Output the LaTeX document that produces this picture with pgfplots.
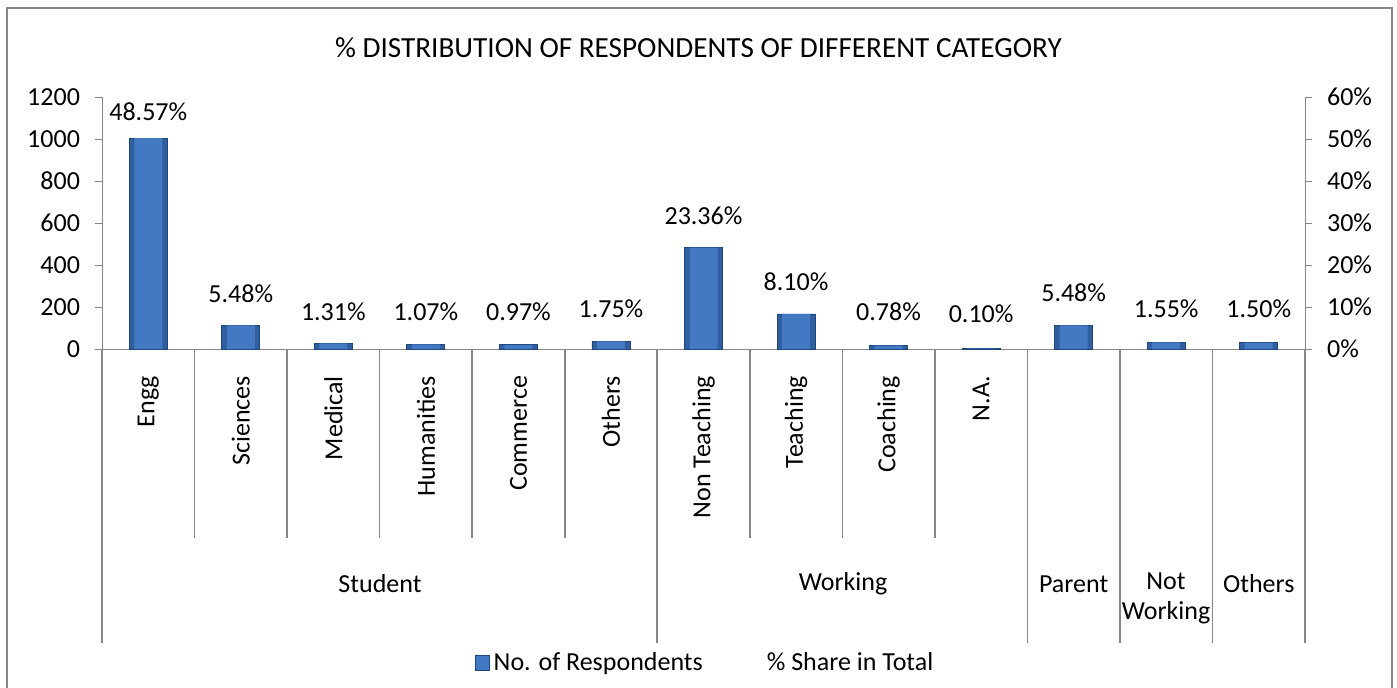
\documentclass[border=0pt]{standalone}
\usepackage{pgfplots}
\pgfplotsset{compat=1.18}
\usepackage{pgfplotstable}
\usepackage{fontspec}
\setmainfont{Carlito}
\definecolor{axgray}{HTML}{868686}
\definecolor{barD}{HTML}{2F5F9E}
\definecolor{barM}{HTML}{4279C2}
\definecolor{barEdge}{HTML}{1F467A}
\pgfplotsset{/pgf/number format/assume math mode=true, /pgf/number format/1000 sep={}}
\newcommand{\fs}{\fontsize{13}{15}\selectfont}

% x: category index, count: No. of Respondents, pct: % share, ly: label height (left-axis units)
\pgfplotstableread{
x count pct ly
0 1004 48.57 1129
1 113 5.48 262
2 27 1.31 176
3 22 1.07 176
4 20 0.97 176
5 36 1.75 190
6 483 23.36 633
7 167 8.10 319
8 16 0.78 176
9 2 0.10 167
10 113 5.48 267
11 32 1.55 190
12 31 1.50 190
}\data

\begin{document}
\begin{tikzpicture}
\useasboundingbox (-51pt,-169pt) rectangle (647.5pt,174.5pt);
\draw[axgray, line width=1pt] (-47.5pt,170.5pt) rectangle (645pt,-200pt);
\begin{axis}[
  at={(0,0)}, anchor=south west,
  scale only axis, width=601.5pt, height=126pt,
  xmin=-0.5, xmax=12.5, ymin=0, ymax=1200,
  ytick={0,200,...,1200},
  axis y line*=left, axis x line*=bottom,
  axis line style={axgray, -}, 
  tick style={axgray},
  tick align=outside, major tick length=3.5pt,
  ytick style={axgray},
  xtick={0,...,12},
  xticklabels={Engg,Sciences,Medical,Humanities,Commerce,Others,Non Teaching,Teaching,Coaching,N.A.,,,},
  x tick style={draw=none},
  xticklabel style={rotate=90, anchor=east, font=\fs, xshift=-6.5pt},
  yticklabel style={font=\fs, xshift=-4pt},
  clip=false,
  legend style={at={(0.502,-1.246)}, anchor=center, draw=none, legend columns=2, font=\fs,
    /tikz/every even column/.append style={column sep=28pt}},
]
\addplot[ybar, bar width=19pt, draw=barEdge, fill=barD,
  legend image code/.code={\draw[fill=barM, draw=barEdge] (0pt,-3.6pt) rectangle (7.2pt,3.6pt);}]
  table[x=x, y=count]{\data};
\addlegendentry{No. of Respondents}
\addlegendimage{empty legend}
\addlegendentry{\% Share in Total}
\addplot[ybar, bar width=14pt, draw=none, fill=barM, forget plot]
  table[x=x, y=count]{\data};
\addplot[draw=none, forget plot, mark=none,
  nodes near coords={\pgfmathprintnumber[fixed,fixed zerofill,precision=2]{\pgfplotspointmeta}\%},
  point meta=explicit,
  every node near coord/.append style={anchor=center, font=\fs, text=black}]
  table[x=x, y=ly, meta=pct]{\data};
\end{axis}
\begin{axis}[
  at={(0,0)}, anchor=south west,
  scale only axis, width=601.5pt, height=126pt,
  xmin=-0.5, xmax=12.5, ymin=0, ymax=60,
  ytick={0,10,...,60},
  axis y line*=right, axis x line=none,
  axis line style={axgray, -},
  tick align=outside, major tick length=3.5pt,
  ytick style={axgray},
  yticklabel={\pgfmathprintnumber{\tick}\%},
  yticklabel style={font=\fs, xshift=4pt},
]
\addplot[draw=none, mark=none] coordinates {(0,0)};
\end{axis}
% category separators
\foreach \b in {0.5,1.5,2.5,3.5,4.5,6.5,7.5,8.5}
  \draw[axgray, line width=0.8pt] ({(\b+0.5)*46.27pt},0) -- ++(0,-94.5pt);
\foreach \b in {-0.5,5.5,9.5,10.5,11.5,12.5}
  \draw[axgray, line width=0.8pt] ({(\b+0.5)*46.27pt},0) -- ++(0,-147pt);
% group labels
\node[font=\fs] at (139pt,-117.5pt) {Student};
\node[font=\fs] at (370.5pt,-117.5pt) {Working};
\node[font=\fs] at (485.8pt,-117.5pt) {Parent};
\node[font=\fs, align=center, inner sep=0pt] at (532pt,-124.5pt) {Not\\Working};
\node[font=\fs] at (578.4pt,-117.5pt) {Others};
% title
\node[font=\fontsize{14.6}{17}\selectfont] at (298.25pt,150.5pt) {\% DISTRIBUTION OF RESPONDENTS OF DIFFERENT CATEGORY};
\end{tikzpicture}
\end{document}
